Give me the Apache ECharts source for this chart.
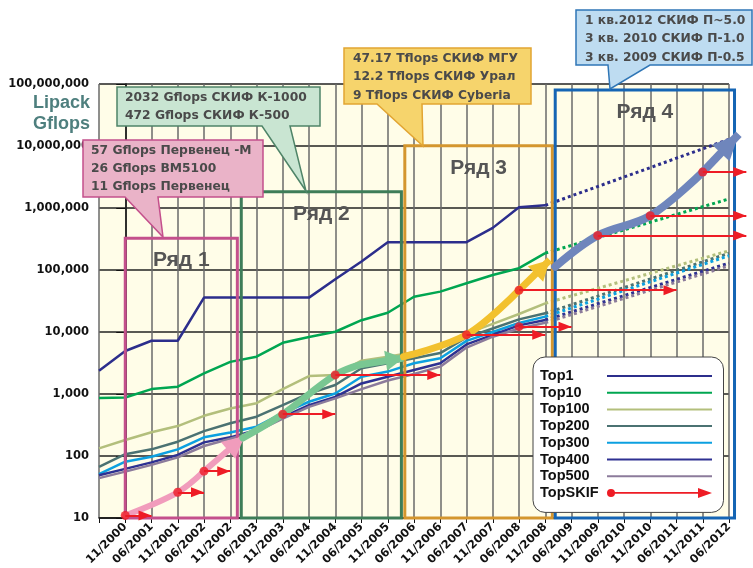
<!DOCTYPE html>
<html><head><meta charset="utf-8">
<script src="https://cdn.jsdelivr.net/npm/echarts@6/dist/echarts.min.js"></script>
<style>html,body{margin:0;padding:0;background:#fff}#c{width:753px;height:568px}</style>
</head><body><div id="c"></div>
<script>
// ---------- data ----------
const xLabels = ['11/2000','06/2001','11/2001','06/2002','11/2002','06/2003','11/2003','06/2004','11/2004','06/2005','11/2005','06/2006','11/2006','06/2007','11/2007','06/2008','11/2008','06/2009','11/2009','06/2010','11/2010','06/2011','11/2011','06/2012'];
// list positions (index -1 = 06/2000, first unlabelled list)
const listIdx = [-1,0,1,2,3,4,5,6,7,8,9,10,11,12,13,14,15,16];
const top1   = [2380,4940,7230,7230,35860,35860,35860,35860,35860,70720,136800,280600,280600,280600,280600,478200,1026000,1105000];
const top10  = [860,880,1200,1310,2150,3300,4000,6700,8300,10100,15500,20400,37000,44800,61000,83000,107000,187000];
const top100 = [133,181,241,304,445,585,710,1200,1950,2030,3450,4000,4700,5500,9400,13500,19500,29000];
const top200 = [67,107,128,170,252,337,430,660,1020,1400,2600,3130,3770,4570,8200,11400,16000,20000];
const top300 = [51,81,97,128,200,240,297,490,750,1020,1900,2300,3130,3770,7200,10000,14000,17700];
const top400 = [49,62,79,104,166,200,263,425,660,900,1480,1900,2440,3130,6300,9000,12800,15600];
const top500 = [44,56,72,95,145,190,250,400,620,850,1200,1650,2100,2760,5600,8400,11400,14100];
// dotted projections from 11/2008 to 06/2012
const projIdx = [16, 23];
const top1Proj   = [1105000, 12800000];
const top10Proj  = [187000, 1400000];
const top100Proj = [29000, 204000];
const top200Proj = [20000, 186000];
const top300Proj = [17700, 170000];
const top400Proj = [15600, 129000];
const top500Proj = [14100, 117000];
// SKIF systems: list of appearance, Gflops, list where the arrow ends
const skifX    = [0, 2, 3, 6, 8, 13, 15, 15, 18, 20, 22];
const skifVal  = [11, 26, 57, 472, 2032, 9000, 12200, 47170, 360000, 750000, 3800000];
const skifEndX = [1, 3, 4, 8, 12, 16, 17, 21, 23.66, 23.66, 23.66];
// thick trend arrows for each "Ряд" (last point = arrow tip)
const ryad1X = [0, 2, 3, 4.55],        ryad1V = [11, 26, 57, 210];
const ryad2X = [4.48, 6, 8, 9, 10.6],  ryad2V = [195, 472, 2032, 3000, 3800];
const ryad3X = [10.6, 13, 15, 16.17],  ryad3V = [4000, 9000, 47170, 145000];
const ryad4X = [16.38, 18, 20, 22, 23.37], ryad4V = [113000, 360000, 750000, 3800000, 15500000];
// "Ряд" frames
const ryadNames = ['Ряд 1','Ряд 2','Ряд 3','Ряд 4'];
const ryadX0  = [0, 4.42, 10.65, 16.38];
const ryadX1  = [4.27, 10.52, 16.27, 23.21];
const ryadTop = [325000, 1830000, 10100000, 80000000];
// callouts
const callout1 = ['57 Gflops Первенец -M','26 Gflops BM5100','11 Gflops Первенец'];
const callout2 = ['2032 Gflops СКИФ К-1000','472 Gflops СКИФ К-500'];
const callout3 = ['47.17 Tflops СКИФ МГУ','12.2 Tflops СКИФ Урал','9 Tflops СКИФ Cyberia'];
const callout4 = ['1 кв.2012 СКИФ П~5.0','3 кв. 2010 СКИФ П-1.0','3 кв. 2009 СКИФ П-0.5'];

// ---------- style ----------
const FB = '"DejaVu Sans", sans-serif';
const FA = '"Liberation Sans", Arial, sans-serif';
const names  = ['Top1','Top10','Top100','Top200','Top300','Top400','Top500'];
const colors = ['#2c2e8c','#00a651','#b3bf7c','#4b7272','#0ca0e0','#2e3192','#8c7b9b'];
const solid  = [top1,top10,top100,top200,top300,top400,top500];
const proj   = [top1Proj,top10Proj,top100Proj,top200Proj,top300Proj,top400Proj,top500Proj];
const ryadColors = ['#c4508c','#3e7d58','#d4962e','#1565b4'];
const arrowColors = ['#f19cbc','#79c792','#f2c12e','#6f86bc'];
const arrowW = [6, 7, 7, 8];
const arrowHead = [[22,22],[20,18],[22,20],[24,26]];
const RED = '#ee1c25';

const pair = (xs, vs) => xs.map((x, i) => [x, vs[i]]);

const series = [];
names.forEach((n, i) => {
  series.push({name: n, type: 'line', data: pair(listIdx, solid[i]), symbol: 'none', z: 2,
    lineStyle: {color: colors[i], width: 2.5}, itemStyle: {color: colors[i]}, silent: true});
});
names.forEach((n, i) => {
  series.push({name: n, type: 'line', data: pair(projIdx, proj[i]), symbol: 'none', z: 2,
    lineStyle: {color: colors[i], width: 3, type: [3, 3]}, itemStyle: {color: colors[i]}, silent: true});
});
// frames
series.push({type: 'line', data: [], xAxisIndex: 1, yAxisIndex: 1, silent: true,
  markArea: {z: 3, silent: true,
    label: {show: true, position: 'insideTop', distance: 13, fontFamily: FA, fontWeight: 'bold', fontSize: 21, color: '#555'},
    data: ryadNames.map((n, i) => [
      {name: n, coord: [ryadX0[i], ryadTop[i]], itemStyle: {color: 'rgba(0,0,0,0)', borderColor: ryadColors[i], borderWidth: 3}},
      {coord: [ryadX1[i], 10]}
    ])}
});
// thick arrows
[[ryad1X, ryad1V],[ryad2X, ryad2V],[ryad3X, ryad3V],[ryad4X, ryad4V]].forEach((r, i) => {
  const pts = pair(r[0], r[1]);
  const tip = pts[pts.length - 1], last = pts[pts.length - 2];
  series.push({type: 'line', data: pts.slice(0, -1), xAxisIndex: 1, yAxisIndex: 1, smooth: 0.35,
    symbol: 'none', z: 4, silent: true, clip: false,
    lineStyle: {color: arrowColors[i], width: arrowW[i], cap: 'round'},
    markLine: {z: 4, silent: true, animation: false, label: {show: false},
      lineStyle: {color: arrowColors[i], width: arrowW[i], type: 'solid'},
      data: [[{coord: last, symbol: 'none'},
              {coord: tip, symbol: 'triangle', symbolSize: arrowHead[i], symbolOffset: [0, '50%']}]]}
  });
});
// SKIF points with arrows
series.push({name: 'TopSKIF', type: 'scatter', xAxisIndex: 1, yAxisIndex: 1, z: 7, silent: true,
  data: pair(skifX, skifVal), symbolSize: 9, itemStyle: {color: RED},
  markLine: {z: 6, silent: true, animation: false, label: {show: false},
    lineStyle: {color: RED, width: 2, type: 'solid'},
    data: skifX.map((x, i) => [{coord: [x, skifVal[i]], symbol: 'none'},
      {coord: [skifEndX[i], skifVal[i]], symbol: 'triangle', symbolSize: [10, 13], symbolOffset: [0, '50%']}])}
});

// ---------- callouts ----------
const graphics = [];
function callout(points, fill, stroke, lines, tx, ty0, dy) {
  graphics.push({type: 'polygon', z: 20, shape: {points}, style: {fill, stroke, lineWidth: 1.5}, silent: true});
  lines.forEach((t, k) => graphics.push({type: 'text', z: 21, x: tx, y: ty0 + k * dy, silent: true,
    style: {text: t, fill: '#4a4a4a', font: 'bold 12.3px ' + FB, verticalAlign: 'middle', align: 'left'}}));
}
callout([[83,140],[263,140],[263,197],[158,197],[163,237],[125,197],[83,197]], '#eab3c8', '#c4508c', callout1, 91, 151, 18);
callout([[117,87],[320,87],[320,126],[290,126],[306,191],[262,126],[117,126]], '#c9e5d2', '#4f8468', callout2, 125, 98, 18);
callout([[344,48],[531,48],[531,104],[422,104],[423,146],[377,104],[344,104]], '#f6d46c', '#e2a532', callout3, 353, 59, 18.2);
callout([[576,10],[752,10],[752,65],[650,65],[610,89],[608,65],[576,65]], '#bedcf1', '#2f76b6', callout4, 585, 21, 18.2);
graphics.push({type: 'text', z: 21, x: 90, y: 103, style: {text: 'Lipack', fill: '#4e7f7e', font: 'bold 18px ' + FA, align: 'right', verticalAlign: 'middle'}});
graphics.push({type: 'text', z: 21, x: 90, y: 124, style: {text: 'Gflops', fill: '#4e7f7e', font: 'bold 18px ' + FA, align: 'right', verticalAlign: 'middle'}});

const chart = echarts.init(document.getElementById('c'), null, {renderer: 'canvas'});
chart.setOption({
  animation: false,
  backgroundColor: '#fff',
  grid: [
    {left: 99, right: 24, top: 84, bottom: 50, show: true, backgroundColor: '#fffde8', borderWidth: 0, containLabel: false, outerBoundsMode: 'none'},
    {left: 99, width: 656.25, top: 84, bottom: 50, show: false, containLabel: false, outerBoundsMode: 'none'}
  ],
  xAxis: [
    {type: 'value', gridIndex: 0, min: -1, max: 23, interval: 1,
      axisLine: {show: true, lineStyle: {color: '#111', width: 1.5}},
      axisTick: {show: true, length: 5, lineStyle: {color: '#111'}},
      splitLine: {show: true, lineStyle: {color: '#6a6a6a', width: 1.5}},
      axisLabel: {rotate: 45, margin: 7, fontFamily: FB, fontWeight: 'bold', fontSize: 11.5, color: '#111',
        showMinLabel: true, showMaxLabel: true,
        formatter: v => (v >= 0 && v <= 23) ? xLabels[Math.round(v)] : ''}},
    {type: 'value', gridIndex: 1, min: -1, max: 24, show: false}
  ],
  yAxis: [
    {type: 'log', gridIndex: 0, logBase: 10, min: 10, max: 100000000,
      axisLine: {show: true, lineStyle: {color: '#111', width: 1.5}},
      axisTick: {show: true, length: 9, lineStyle: {color: '#111'}},
      splitLine: {show: true, lineStyle: {color: '#222', width: 1.5}},
      axisLabel: {margin: 10, fontFamily: FB, fontWeight: 'bold', fontSize: 11.5, color: '#111',
        formatter: v => Number(v).toLocaleString('en-US')}},
    {type: 'log', gridIndex: 1, logBase: 10, min: 10, max: 100000000, show: false}
  ],
  legend: {
    left: 533, top: 357, orient: 'vertical', align: 'right', selectedMode: false, z: 10,
    padding: [11.5, 10.5, 12, 7], itemGap: 1.7, itemWidth: 105, itemHeight: 10, symbolKeepAspect: false,
    backgroundColor: '#fff', borderColor: '#444', borderWidth: 1, borderRadius: 12,
    itemStyle: {opacity: 0},
    formatter: n => '{a|' + n + '}',
    textStyle: {rich: {a: {width: 62, align: 'left', fontFamily: FA, fontWeight: 'bold', fontSize: 14.5, color: '#111', lineHeight: 16.8}}},
    data: names.map(n => ({name: n})).concat([{name: 'TopSKIF', itemStyle: {opacity: 1},
      icon: 'path://M4,1 A4,4 0 1,1 4,9 A4,4 0 1,1 4,1 Z M7,4.2 L93,4.2 L93,5.8 L7,5.8 Z M91,0 L105,5 L91,10 Z'}])
  },
  graphic: graphics,
  series
});
</script></body></html>
